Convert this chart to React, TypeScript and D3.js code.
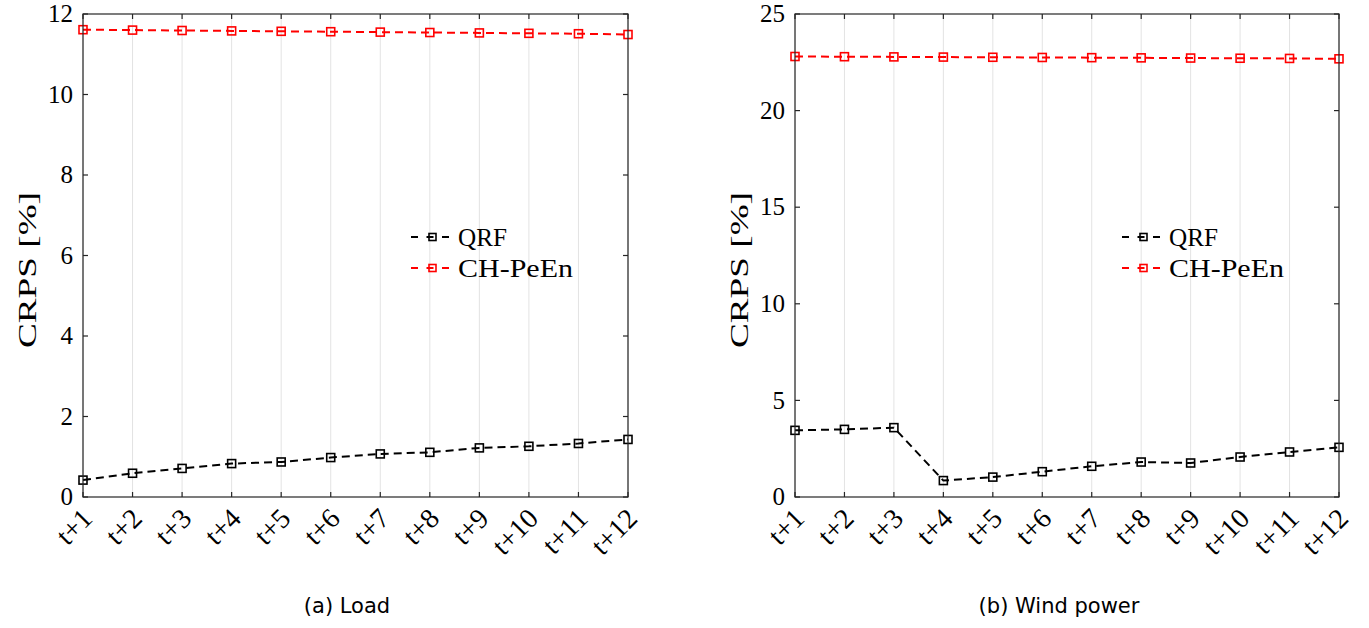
import React from "react";
import * as d3 from "d3";

const categories = ["t+1","t+2","t+3","t+4","t+5","t+6","t+7","t+8","t+9","t+10","t+11","t+12"];

const loadQRF = [0.42, 0.59, 0.71, 0.83, 0.87, 0.98, 1.07, 1.11, 1.22, 1.26, 1.33, 1.43];
const loadCH = [11.61, 11.60, 11.59, 11.58, 11.57, 11.56, 11.55, 11.54, 11.53, 11.52, 11.51, 11.49];

const windQRF = [3.45, 3.50, 3.59, 0.85, 1.03, 1.31, 1.59, 1.81, 1.76, 2.07, 2.33, 2.57];
const windCH = [22.80, 22.79, 22.78, 22.77, 22.76, 22.75, 22.74, 22.73, 22.72, 22.71, 22.70, 22.68];

const loadTicks = [0, 2, 4, 6, 8, 10, 12];
const windTicks = [0, 5, 10, 15, 20, 25];

const seriesNames = ["QRF", "CH-PeEn"];
const seriesColors = ["#000000", "#ff0000"];
const legendWidths = [49, 115];

const SERIF = "Liberation Serif, Times New Roman, Times, serif";
const SANS = "DejaVu Sans, sans-serif";

type PanelProps = {
  x0: number; x1: number; y0: number; y1: number;
  yMax: number; yTicks: number[];
  series: number[][];
  caption: string; captionX: number;
  legendX: number;
  ylabelX: number;
};

function Panel(p: PanelProps) {
  const x = d3.scalePoint<string>().domain(categories).range([p.x0, p.x1]);
  const y = d3.scaleLinear().domain([0, p.yMax]).range([p.y1, p.y0]);
  const line = d3.line<number>()
    .x((_, i) => x(categories[i]) as number)
    .y((v) => y(v));
  const axisColor = "#262626";
  const tl = 5;
  return (
    <g>
      {categories.map((c) => (
        <line key={"g" + c} x1={x(c)} x2={x(c)} y1={p.y0} y2={p.y1} stroke="#e3e3e3" strokeWidth={1} />
      ))}
      {p.series.map((s, si) => (
        <g key={"s" + si}>
          <path d={line(s) || ""} fill="none" stroke={seriesColors[si]} strokeWidth={2} strokeDasharray="8,5" />
          {s.map((v, i) => (
            <rect key={i} x={(x(categories[i]) as number) - 4} y={y(v) - 4} width={8} height={8}
              fill="none" stroke={seriesColors[si]} strokeWidth={1.6} />
          ))}
        </g>
      ))}
      <rect x={p.x0} y={p.y0} width={p.x1 - p.x0} height={p.y1 - p.y0} fill="none" stroke={axisColor} strokeWidth={1.2} />
      {categories.map((c) => (
        <g key={"t" + c}>
          <line x1={x(c)} x2={x(c)} y1={p.y1} y2={p.y1 - tl} stroke={axisColor} strokeWidth={1.2} />
          <line x1={x(c)} x2={x(c)} y1={p.y0} y2={p.y0 + tl} stroke={axisColor} strokeWidth={1.2} />
          <text transform={`translate(${(x(c) as number) + 11},${p.y1 + 23}) rotate(-45)`}
            textAnchor="end" style={{ fontFamily: SERIF }} fontSize={28} fill="#000">{c}</text>
        </g>
      ))}
      {p.yTicks.map((t) => (
        <g key={"y" + t}>
          <line x1={p.x0} x2={p.x0 + tl} y1={y(t)} y2={y(t)} stroke={axisColor} strokeWidth={1.2} />
          <line x1={p.x1} x2={p.x1 - tl} y1={y(t)} y2={y(t)} stroke={axisColor} strokeWidth={1.2} />
          <text x={p.x0 - 10} y={y(t)} dy="0.33em" textAnchor="end" style={{ fontFamily: SERIF }} fontSize={25} fill="#000">{t}</text>
        </g>
      ))}
      <text transform={`translate(${p.ylabelX},270) rotate(-90)`} textAnchor="middle"
        style={{ fontFamily: SERIF }} fontSize={26} fill="#000" textLength={156} lengthAdjust="spacingAndGlyphs">CRPS [%]</text>
      {seriesNames.map((n, i) => {
        const ly = 237 + i * 31;
        return (
          <g key={"l" + n}>
            <line x1={p.legendX} x2={p.legendX + 43} y1={ly} y2={ly} stroke={seriesColors[i]} strokeWidth={2} strokeDasharray="7,8.5" />
            <rect x={p.legendX + 21.5 - 3.5} y={ly - 3.5} width={7} height={7} fill="none" stroke={seriesColors[i]} strokeWidth={1.6} />
            <text x={p.legendX + 47} y={ly} dy="0.33em" style={{ fontFamily: SERIF }} fontSize={26} fill="#000"
              textLength={legendWidths[i]} lengthAdjust="spacingAndGlyphs">{n}</text>
          </g>
        );
      })}
      <text x={p.captionX} y={613} textAnchor="middle" style={{ fontFamily: SANS }} fontSize={21} fill="#000">{p.caption}</text>
    </g>
  );
}

export default function App() {
  return (
    <svg width={1369} height={628} style={{ position: "absolute", left: 0, top: 0, background: "#fff" }}>
      <rect width={1369} height={628} fill="#fff" />
      <Panel x0={83} x1={628} y0={14} y1={497} yMax={12} yTicks={loadTicks}
        series={[loadQRF, loadCH]} caption="(a) Load" captionX={347} legendX={411} ylabelX={36} />
      <Panel x0={795} x1={1339} y0={14} y1={497} yMax={25} yTicks={windTicks}
        series={[windQRF, windCH]} caption="(b) Wind power" captionX={1059} legendX={1122} ylabelX={748} />
    </svg>
  );
}
